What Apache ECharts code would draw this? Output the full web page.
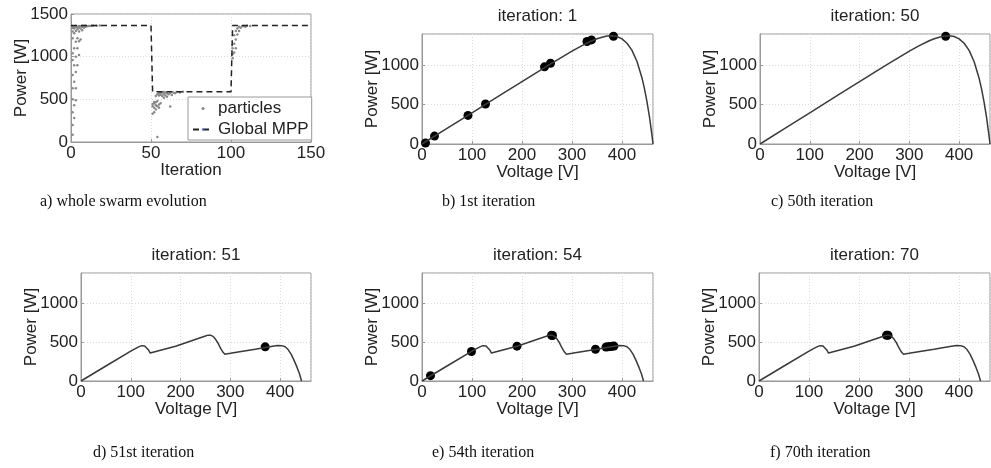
<!DOCTYPE html>
<html>
<head>
<meta charset="UTF-8">
<title>PSO MPPT swarm evolution</title>
<style>
  html, body { margin: 0; padding: 0; background: #fff; }
  #box { width: 991px; height: 468px; }
</style>
</head>
<body>
<div id="box"></div>
<script src="https://cdn.jsdelivr.net/npm/echarts@6/dist/echarts.min.js"></script>
<script>
// ---- values ----

// a) global MPP over the iterations
const mppIter = [0, 50, 51, 100, 101, 150];
const mppPower = [1365, 1365, 590, 590, 1365, 1365];

// a) particle powers [iteration, W]
const particles = [
  [1, 85], [1, 200], [1, 350], [1, 500], [1, 630], [1, 785], [1, 960], [1, 1040], [1, 1215], [1, 1295], [1, 1335], [1, 1350],
  [2, 280], [2, 430], [2, 705], [2, 900], [2, 1100], [2, 1275], [2, 1330], [2, 1355],
  [3, 490], [3, 630], [3, 820], [3, 1000], [3, 1175], [3, 1300], [3, 1345], [3, 1360],
  [4, 900], [4, 1100], [4, 1215], [4, 1320], [4, 1350],
  [5, 1020], [5, 1180], [5, 1295], [5, 1340], [5, 1360],
  [6, 1200], [6, 1330], [6, 1355],
  [7, 1310], [7, 1350], [7, 1362],
  [8, 1340], [8, 1358], [9, 1350], [9, 1362], [10, 1355], [11, 1360], [12, 1358], [13, 1362], [14, 1363], [16, 1362], [18, 1364],
  [51, 330], [51, 420], [51, 445],
  [52, 350], [52, 400], [52, 455], [52, 470],
  [53, 380], [53, 430], [53, 465], [53, 540],
  [54, 60], [54, 420], [54, 480], [54, 560],
  [55, 400], [55, 440], [55, 545], [55, 570],
  [56, 455], [56, 555], [56, 578],
  [57, 540], [57, 580],
  [58, 520], [58, 560], [58, 585],
  [59, 545], [59, 580], [60, 530], [60, 570], [61, 560], [62, 415], [62, 575], [63, 550],
  [64, 580], [65, 570], [66, 585], [68, 580], [70, 588],
  [101, 980], [101, 1030], [101, 1100],
  [102, 1050], [102, 1150], [102, 1250],
  [103, 1100], [103, 1200], [103, 1300],
  [104, 1260], [104, 1330],
  [105, 1300], [105, 1350],
  [106, 1340], [107, 1355], [108, 1360], [109, 1350], [110, 1362], [112, 1360]
];

// P-V curve, uniform irradiance (iterations 1 and 50)
const uniformV = [0, 50, 100, 150, 200, 250, 300, 320, 340, 350, 360, 370, 380, 390, 400, 410, 420, 430, 440, 445, 450, 455, 460, 462];
const uniformP = [0, 197, 394, 591, 788, 983, 1173, 1243, 1305, 1330, 1350, 1364, 1367, 1358, 1328, 1273, 1183, 1042, 835, 697, 533, 339, 105, 0];

// P-V curve, partial shading (iterations 51, 54, 70)
const shadedV = [0, 50, 100, 110, 117, 122, 128, 132, 136, 139, 141, 190, 250, 255, 260, 265, 270, 275, 280, 285, 289,
                 300, 350, 370, 385, 395, 403, 410, 416, 422, 428, 434, 439, 443];
const shadedP = [0, 193, 385, 420, 443, 455, 450, 430, 395, 360, 340, 448, 580, 590, 590, 575, 540, 490, 425, 372, 345,
                 356, 408, 432, 448, 456, 455, 440, 405, 345, 265, 175, 90, 0];

// particle positions [V, W] for each snapshot
const dotsIt1 = [[7, 13], [25, 100], [92, 361], [127, 505], [245, 975], [257, 1020], [330, 1295], [339, 1315], [383, 1362]];
const dotsIt50 = [[373, 1362]];
const dotsIt51 = [[370, 440]];
const dotsIt54 = [[17, 69], [99, 380], [190, 448], [259, 588], [261, 585], [347, 409],
                  [368, 436], [372, 440], [376, 443], [380, 446], [384, 449]];
const dotsIt70 = [[255, 588], [258, 589]];

const titles = ['', 'iteration: 1', 'iteration: 50', 'iteration: 51', 'iteration: 54', 'iteration: 70'];
const captions = ['a) whole swarm evolution', 'b) 1st iteration', 'c) 50th iteration',
                  'd) 51st iteration', 'e) 54th iteration', 'f) 70th iteration'];

// ---- layout ----
const sans = 'Liberation Sans, Arial, Helvetica, sans-serif';
const serif = 'Liberation Serif, Times New Roman, serif';
const ink = '#222';

const grids = [
  { left: 71, top: 14, width: 240, height: 128 },
  { left: 422, top: 34, width: 231, height: 110 },
  { left: 760, top: 34, width: 230, height: 110 },
  { left: 81, top: 273, width: 230, height: 108 },
  { left: 422, top: 273, width: 231, height: 108 },
  { left: 759, top: 273, width: 231, height: 108 }
];
const captionPos = [[40, 202], [442, 202], [771, 202], [93, 453], [432, 453], [770, 453]];

function zip(xs, ys) {
  return xs.map((x, i) => [x, ys[i]]);
}
const plain = v => String(v);

const xAxes = [], yAxes = [];
grids.forEach((g, i) => {
  const first = i === 0;
  xAxes.push({
    type: 'value', gridIndex: i, min: 0, max: first ? 150 : 462, interval: first ? 50 : 100,
    name: first ? 'Iteration' : 'Voltage [V]', nameLocation: 'middle', nameGap: 20,
    nameMoveOverlap: false,
    nameTextStyle: { fontFamily: sans, fontSize: 17, color: ink },
    axisLine: { onZero: false, lineStyle: { color: '#999' } },
    axisTick: { inside: true, length: 3, lineStyle: { color: '#999' } },
    axisLabel: { fontFamily: sans, fontSize: 17, color: ink, margin: 3, showMaxLabel: first, formatter: plain },
    splitLine: { show: true, lineStyle: { color: '#dcdcdc', type: [1, 2] } }
  });
  yAxes.push({
    type: 'value', gridIndex: i, min: 0, max: first ? 1500 : 1390, interval: 500,
    name: 'Power [W]', nameLocation: 'middle', nameGap: 41, nameRotate: 90,
    nameMoveOverlap: false,
    nameTextStyle: { fontFamily: sans, fontSize: 17, color: ink },
    axisLine: { lineStyle: { color: '#999' } },
    axisTick: { inside: true, length: 3, lineStyle: { color: '#999' } },
    axisLabel: { fontFamily: sans, fontSize: 17, color: ink, margin: 3, showMaxLabel: first, formatter: plain },
    splitLine: { show: true, lineStyle: { color: '#dcdcdc', type: [1, 2] } }
  });
});

const series = [
  {
    name: 'particles', type: 'scatter', xAxisIndex: 0, yAxisIndex: 0,
    symbol: 'circle', symbolSize: 2.5, itemStyle: { color: '#888', opacity: 1 },
    data: particles
  },
  {
    name: 'Global MPP', type: 'line', xAxisIndex: 0, yAxisIndex: 0,
    symbol: 'none', lineStyle: { color: '#222', width: 1.5, type: [6, 4] },
    data: zip(mppIter, mppPower)
  }
];

const curves = [null, [uniformV, uniformP], [uniformV, uniformP], [shadedV, shadedP], [shadedV, shadedP], [shadedV, shadedP]];
const dots = [null, dotsIt1, dotsIt50, dotsIt51, dotsIt54, dotsIt70];
for (let i = 1; i < 6; i++) {
  series.push({
    type: 'line', xAxisIndex: i, yAxisIndex: i, symbol: 'none',
    lineStyle: { color: '#3a3a3a', width: 1.5 },
    data: zip(curves[i][0], curves[i][1])
  });
  series.push({
    type: 'scatter', xAxisIndex: i, yAxisIndex: i,
    symbol: 'circle', symbolSize: 9, itemStyle: { color: '#000', opacity: 1 },
    data: dots[i]
  });
}

const graphic = [];
grids.forEach((g, i) => {
  if (titles[i]) {
    graphic.push({
      type: 'text', silent: true,
      style: {
        x: g.left + g.width / 2, y: g.top - 18, text: titles[i],
        align: 'center', verticalAlign: 'middle',
        fontFamily: sans, fontSize: 17, fill: ink
      }
    });
  }
  graphic.push({
    type: 'text', silent: true,
    style: {
      x: captionPos[i][0], y: captionPos[i][1], text: captions[i],
      align: 'left', verticalAlign: 'middle',
      fontFamily: serif, fontSize: 16, fill: '#111'
    }
  });
});

const option = {
  animation: false,
  backgroundColor: '#fff',
  grid: grids.map(g => Object.assign({ show: true, borderColor: '#999', borderWidth: 1, backgroundColor: '#fff' }, g)),
  xAxis: xAxes,
  yAxis: yAxes,
  legend: {
    data: ['particles', 'Global MPP'],
    orient: 'vertical', left: 188, top: 97,
    itemWidth: 20, itemHeight: 3, itemGap: 4,
    padding: [3, 3, 2, 4],
    backgroundColor: '#fff', borderColor: '#999', borderWidth: 1,
    textStyle: { fontFamily: sans, fontSize: 17, color: ink }
  },
  series: series,
  graphic: graphic
};

const myChart = echarts.init(document.getElementById('box'));
myChart.setOption(option);
</script>
</body>
</html>
